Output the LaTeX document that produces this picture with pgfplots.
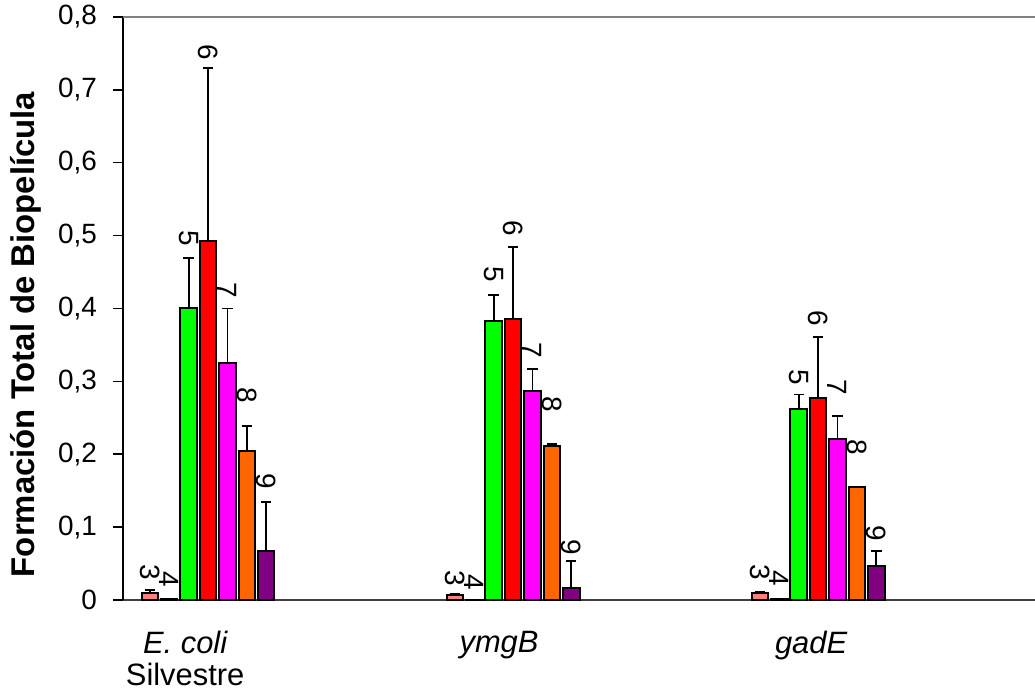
\documentclass[border=0pt]{standalone}
\usepackage{fontspec}
\setmainfont{Liberation Sans}
\usepackage{pgfplots}
\pgfplotsset{compat=1.18}
\definecolor{c3}{HTML}{FF8080}
\definecolor{c4}{HTML}{000080}
\definecolor{c5}{HTML}{00FF00}
\definecolor{c6}{HTML}{FF0000}
\definecolor{c7}{HTML}{FF00FF}
\definecolor{c8}{HTML}{FF6600}
\definecolor{c9}{HTML}{800080}
\begin{document}
\begin{tikzpicture}
\begin{axis}[
  name=ax,
  scale only axis,
  width=456bp, height=291.5bp,
  xmin=0.7213, xmax=3.711,
  ymin=0, ymax=0.8,
  axis x line*=bottom,
  axis y line*=left,
  x axis line style={draw=black!75, line width=1.2bp},
  y axis line style={draw=black, line width=0.75bp},
  ytick={0,0.1,0.2,0.3,0.4,0.5,0.6,0.7,0.8},
  yticklabel style={/pgf/number format/fixed, /pgf/number format/precision=1, /pgf/number format/use comma, /pgf/number format/assume math mode=true},
  yticklabel style={font=\fontsize{14}{16}\selectfont, anchor=east, xshift=-4.5bp},
  ytick style={black, line width=0.75bp},
  tick align=outside,
  major tick length=5bp,
  xtick={0.925,1.954,2.977},
  xticklabels={{\itshape E. coli\\Silvestre},{\itshape ymgB},{\itshape gadE}},
  xticklabel style={align=center, font=\fontsize{15.5}{16}\selectfont, anchor=north, yshift=-7bp},
  xtick style={draw=none},
  clip=false,
  ybar, bar width=0.054, bar shift=0pt,
  every axis plot/.append style={draw=black, line width=1bp,
    error bars/y dir=plus, error bars/y explicit,
    error bars/error bar style={line width=0.9bp, black},
    error bars/error mark options={black, line width=0.9bp, mark size=2.6bp, rotate=90}},
]
\draw[black!50, line width=1bp] (rel axis cs:0,1) -- (rel axis cs:1,1);
\addplot[fill=c3] coordinates {(0.8092,0.0096) +- (0,0.004) (1.8092,0.0069) +- (0,0.002) (2.8092,0.010) +- (0,0.0015)};
\addplot[fill=c4, error bars/y dir=none] coordinates {(0.8728,0.0015) (1.8728,0.0003) (2.8728,0.002)};
\addplot[fill=c5] coordinates {(0.9364,0.400) +- (0,0.069) (1.9364,0.383) +- (0,0.035) (2.9364,0.262) +- (0,0.020)};
\addplot[fill=c6] coordinates {(1,0.492) +- (0,0.238) (2,0.386) +- (0,0.098) (3,0.277) +- (0,0.084)};
\addplot[fill=c7] coordinates {(1.0636,0.325) +- (0,0.075) (2.0636,0.287) +- (0,0.030) (3.0636,0.221) +- (0,0.031)};
\addplot[fill=c8] coordinates {(1.1272,0.2045) +- (0,0.034) (2.1272,0.212) +- (0,0.002) (3.1272,0.1555) +- (0,0)};
\addplot[fill=c9] coordinates {(1.1908,0.067) +- (0,0.068) (2.1908,0.017) +- (0,0.036) (3.1908,0.047) +- (0,0.020)};
\begin{scope}[every node/.style={rotate=-90, font=\fontsize{14}{16}\selectfont, inner sep=0pt}]
\node at (axis cs:0.8092,0.038) {3};
\node at (axis cs:0.8728,0.029) {4};
\node at (axis cs:0.9364,0.497) {5};
\node at (axis cs:1,0.751) {6};
\node at (axis cs:1.0636,0.425) {7};
\node at (axis cs:1.1272,0.281) {8};
\node at (axis cs:1.1908,0.163) {9};
\node at (axis cs:1.8092,0.030) {3};
\node at (axis cs:1.8728,0.025) {4};
\node at (axis cs:1.9364,0.447) {5};
\node at (axis cs:2,0.510) {6};
\node at (axis cs:2.0636,0.343) {7};
\node at (axis cs:2.1272,0.268) {8};
\node at (axis cs:2.1908,0.073) {9};
\node at (axis cs:2.8092,0.038) {3};
\node at (axis cs:2.8728,0.030) {4};
\node at (axis cs:2.9364,0.306) {5};
\node at (axis cs:3,0.387) {6};
\node at (axis cs:3.0636,0.292) {7};
\node at (axis cs:3.1272,0.210) {8};
\node at (axis cs:3.1908,0.092) {9};
\end{scope}
\end{axis}
\node[rotate=90, anchor=south, inner sep=0pt, font=\fontsize{16.5}{18}\selectfont\bfseries] at ([xshift=-40.5bp, yshift=-13bp]ax.west) {Formación Total de Biopelícula};
\pgfresetboundingbox
\path ([shift={(-61.5bp,-47bp)}]ax.south west) rectangle ([shift={(0bp,8.5bp)}]ax.north east);
\end{tikzpicture}
\end{document}
